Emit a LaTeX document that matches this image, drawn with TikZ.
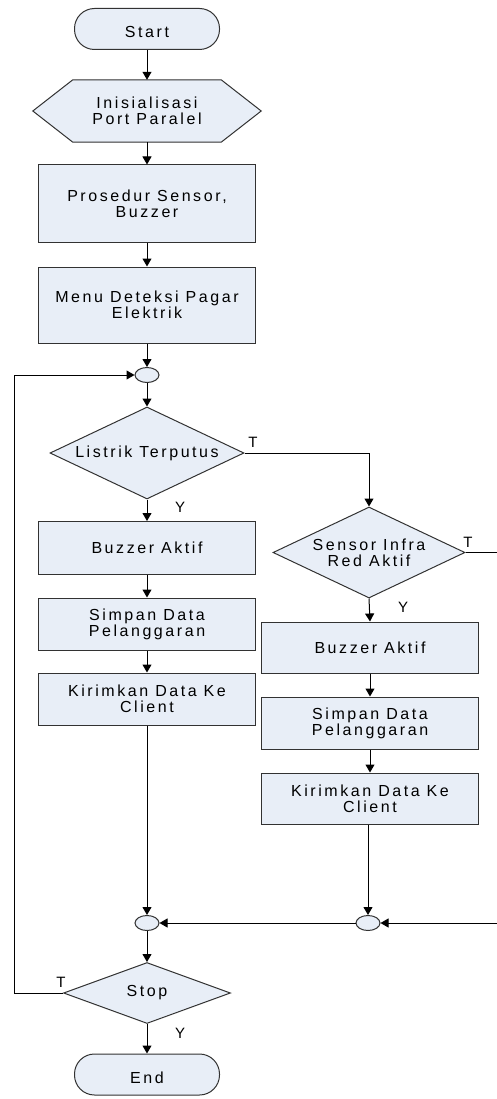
\documentclass[tikz,border=0pt]{standalone}
\usepackage{fontspec}
\setmainfont{Liberation Sans}[LetterSpace=16]
\usetikzlibrary{arrows.meta,shapes.geometric,calc}
\pgfdeclarelayer{background}
\pgfsetlayers{background,main}
\definecolor{shfill}{RGB}{232,238,247}
\definecolor{shline}{RGB}{50,50,50}
\begin{document}
\begin{tikzpicture}[x=1pt,y=-1pt,
  base/.style={draw=shline, fill=shfill, line width=1pt, align=center,
    font=\fontsize{16}{16}\selectfont, inner sep=0pt},
  proc/.style={base, rectangle, minimum width=217pt, minimum height=#1},
  term/.style={base, rectangle, rounded corners=20pt, minimum width=145pt, minimum height=41pt,
    text height=18pt, text depth=0pt},
  dec/.style n args={2}{base, diamond, aspect=2, minimum width=#1, minimum height=#2},
  junc/.style={base, ellipse, minimum width=24pt, minimum height=15pt},
  hexbox/.style={align=center, font=\fontsize{16}{16}\selectfont, inner sep=0pt,
    minimum width=228pt, minimum height=62pt},
  hexfill/.style={draw=shline, fill=shfill, line width=1pt},
  conn/.style={draw=black, line width=1pt},
  arr/.style={conn, -{Triangle[width=9pt,length=8pt]}},
  lbl/.style={font=\fontsize{15}{15}\selectfont, inner sep=0pt}
]
\useasboundingbox (0,0) rectangle (496,1099);

% left / main column
\node[term] (start) at (147,29) {Start};
\node[hexbox] (init) at (147,111) {Inisialisasi\\Port Paralel};
\begin{pgfonlayer}{background}
\path[hexfill] (init.west) -- ([xshift=40pt]init.north west) -- ([xshift=-40pt]init.north east)
  -- (init.east) -- ([xshift=-40pt]init.south east) -- ([xshift=40pt]init.south west) -- cycle;
\end{pgfonlayer}
\node[proc=77pt] (b1) at (147,203.5) {Prosedur Sensor,\\Buzzer};
\node[proc=76pt] (b2) at (147,305) {Menu Deteksi Pagar\\Elektrik};
\node[junc] (c1) at (147,375) {};
\node[dec={194pt}{92pt}] (d1) at (147,453) {Listrik Terputus};
\node[proc=53pt] (lb1) at (147,548) {Buzzer Aktif};
\node[proc=52pt] (ls1) at (147,624) {Simpan Data\\Pelanggaran};
\node[proc=52pt] (lk1) at (147,699) {Kirimkan Data Ke\\Client};
\node[junc] (c2) at (147,923) {};
\node[dec={167pt}{61pt}] (stop) at (147,993) {Stop};
\node[term] (end) at (147,1074.5) {End};

% right column
\node[dec={192pt}{91pt}] (d2) at (369,552.5) {Sensor Infra\\Red Aktif};
\node[proc=51pt] (rb1) at (370,647.5) {Buzzer Aktif};
\node[proc=52pt] (rs1) at (370,723) {Simpan Data\\Pelanggaran};
\node[proc=51pt] (rk1) at (370,798.5) {Kirimkan Data Ke\\Client};
\node[junc] (c3) at (368,923) {};

% free ends beyond the right edge
\coordinate (re1) at (500,552.5);
\coordinate (re2) at (500,923);
% left loop corners
\coordinate (le1) at (14,993);
\coordinate (le2) at (14,375);

% connectors
\draw[arr] (start) -- (init);
\draw[arr] (init) -- (b1);
\draw[arr] (b1) -- (b2);
\draw[arr] (b2) -- (c1);
\draw[arr] (c1) -- (d1);
\draw[arr] (d1.east) -| (d2.north);
\draw[arr] (d1.south) -- (lb1.north);
\draw[arr] (lb1) -- (ls1);
\draw[arr] (ls1) -- (lk1);
\draw[arr] (lk1.south) -- (c2.north);
\draw[arr] (d2.south) -- (rb1.north);
\draw[arr] (rb1) -- (rs1);
\draw[arr] (rs1) -- (rk1);
\draw[arr] (rk1.south -| c3.north) -- (c3.north);
\draw[arr] (c3.west) -- (c2.east);
\draw[arr] (d2.east) -- (re1) -- (re2) -- (c3.east);
\draw[arr] (c2) -- (stop);
\draw[arr] (stop.west) -- (le1) -- (le2) -- (c1.west);
\draw[arr] (stop.south) -- (end.north);

% labels
\node[lbl] (t1) at (253,442) {T};
\node[lbl] (y1) at (180,507) {Y};
\node[lbl] (t2) at (468,542) {T};
\node[lbl] (y2) at (403,607) {Y};
\node[lbl] (t3) at (61,982) {T};
\node[lbl] (y3) at (180,1033) {Y};
\end{tikzpicture}
\end{document}
